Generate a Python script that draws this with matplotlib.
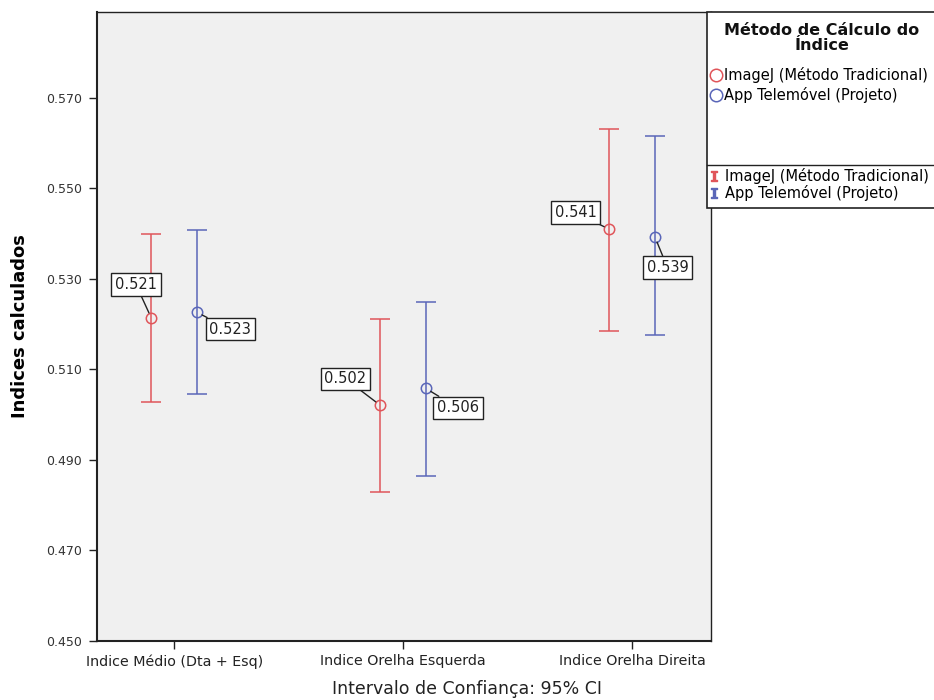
import matplotlib
matplotlib.use("Agg")
import matplotlib.pyplot as plt
from matplotlib.lines import Line2D
from matplotlib.patches import Rectangle
import numpy as np

categories = ["Indice Médio (Dta + Esq)", "Indice Orelha Esquerda", "Indice Orelha Direita"]
series_names = ["ImageJ (Método Tradicional)", "App Telemóvel (Projeto)"]
imagej_mean = [0.5214, 0.5021, 0.5410]
imagej_low = [0.5029, 0.4829, 0.5186]
imagej_high = [0.5399, 0.5212, 0.5631]
app_mean = [0.5226, 0.5058, 0.5393]
app_low = [0.5046, 0.4865, 0.5176]
app_high = [0.5408, 0.5250, 0.5616]
yticks = [0.450, 0.470, 0.490, 0.510, 0.530, 0.550, 0.570]

red = "#e0555a"
blue = "#5a66b8"

fig = plt.figure(figsize=(9.34, 7.0), dpi=100)
ax = fig.add_axes([97/934, 59/700, (711-97)/934, (641-12)/700])
ax.set_facecolor("#f0f0f0")

x = np.arange(len(categories))
offs = 0.1
series = [
    (imagej_mean, imagej_low, imagej_high, red, -offs),
    (app_mean, app_low, app_high, blue, offs),
]
label_offsets = [
    [(-11, 24), (-25, 19), (-24, 12)],
    [(24, -12), (23, -14), (9, -22)],
]
for si, (m, lo, hi, col, off) in enumerate(series):
    m = np.array(m); lo = np.array(lo); hi = np.array(hi)
    xs = x + off
    ax.errorbar(xs, m, yerr=[m - lo, hi - m], fmt="none", ecolor=col,
                elinewidth=1.1, capsize=7, capthick=1.1, zorder=2)
    ax.plot(xs, m, "o", mfc="none", mec=col, ms=7.5, mew=1.1, zorder=3)
    for xi, mi, (dx, dy) in zip(xs, m, label_offsets[si]):
        ax.annotate(f"{mi:.3f}", xy=(xi, mi), xytext=(dx, dy),
                    textcoords="offset points", ha="center", va="center",
                    fontsize=10.5, color="#222222",
                    bbox=dict(boxstyle="square,pad=0.25", fc="white", ec="#222222", lw=1),
                    arrowprops=dict(arrowstyle="-", color="#222222", lw=1,
                                    shrinkA=0, shrinkB=4),
                    zorder=5)

ax.set_xlim(-0.337, 2.345)
ax.set_ylim(0.450, 0.589)
ax.set_xticks(x)
ax.set_xticklabels(categories, fontsize=10.3, color="#222222")
ax.set_yticks(yticks)
ax.set_yticklabels([f"{t:.3f}" for t in yticks], fontsize=9, color="#333333")
ax.tick_params(axis="both", direction="out", length=6, width=1, color="#222222")
ax.tick_params(axis="y", pad=5)
for s in ax.spines.values():
    s.set_color("#222222")
    s.set_linewidth(1)
ax.spines["left"].set_linewidth(1.5)
ax.spines["bottom"].set_linewidth(1.5)
ax.set_ylabel("Indices calculados", fontsize=13, fontweight="bold", labelpad=12)
ax.set_xlabel("Intervalo de Confiança: 95% CI", fontsize=12.5, color="#222222")
ax.xaxis.label.set_va("center")
ax.xaxis.set_label_coords((467 - 97) / 614, (641 - 689) / 629)

# Legend panel
panel = Rectangle((707/934, 1 - 208/700), 1.0, (208-12)/700, transform=fig.transFigure,
                  fc="white", ec="#222222", lw=1.2, zorder=0)
fig.patches.append(panel)
fig.add_artist(Line2D([707/934, 1.0], [1 - 165/700, 1 - 165/700],
                      transform=fig.transFigure, color="#222222", lw=1))
fig.text(822/934, 1 - 38/700, "Método de Cálculo do\nÍndice", ha="center", va="center",
         fontsize=11.5, fontweight="bold", linespacing=0.95, color="#111111")

h1 = [Line2D([], [], ls="none", marker="o", mfc="none", mec=c, ms=9, mew=1.1)
      for c in (red, blue)]
fig.legend(h1, series_names, loc="upper left", bbox_to_anchor=(709.5/934, 1 - 67/700),
           frameon=False, fontsize=10.5, handlelength=0.9, handletextpad=0.1,
           labelspacing=0.3, borderpad=0, borderaxespad=0)
h2 = [Line2D([], [], ls="none", marker="$\\mathtt{I}$", color=c, ms=7) for c in (red, blue)]
fig.legend(h2, series_names, loc="upper left", bbox_to_anchor=(707.5/934, 1 - 168/700),
           frameon=False, fontsize=10.5, handlelength=0.9, handletextpad=0.3,
           labelspacing=0.1, borderpad=0, borderaxespad=0)

fig.savefig("out.png", dpi=100)
